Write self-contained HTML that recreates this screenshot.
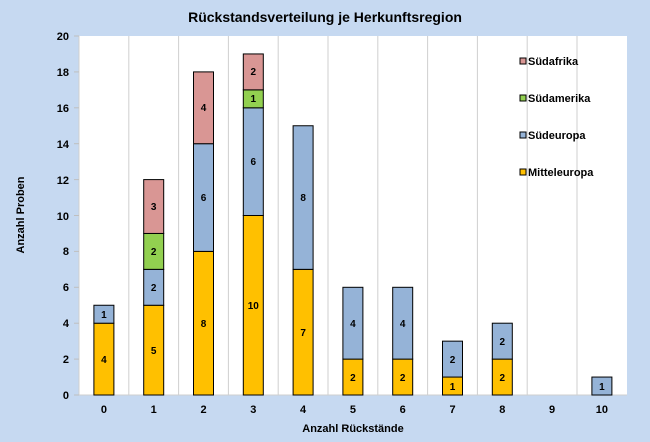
<!DOCTYPE html>
<html><head><meta charset="utf-8"><style>
body{margin:0;background:#c6d9f1;}
svg{display:block;font-family:"Liberation Sans",Arial,sans-serif;font-weight:bold;}
</style></head><body>
<svg width="650" height="442" viewBox="0 0 650 442" xmlns="http://www.w3.org/2000/svg">
<rect width="650" height="442" fill="#c6d9f1"/>
<text x="325" y="22" font-size="14" text-anchor="middle">Rückstandsverteilung je Herkunftsregion</text>
<rect x="79" y="36" width="548" height="359" fill="#fff"/>
<g stroke="#cfcfcf" stroke-width="1">
<line x1="128.8" y1="36" x2="128.8" y2="395"/><line x1="178.6" y1="36" x2="178.6" y2="395"/>
<line x1="228.4" y1="36" x2="228.4" y2="395"/><line x1="278.2" y1="36" x2="278.2" y2="395"/>
<line x1="328" y1="36" x2="328" y2="395"/><line x1="377.8" y1="36" x2="377.8" y2="395"/>
<line x1="427.6" y1="36" x2="427.6" y2="395"/><line x1="477.4" y1="36" x2="477.4" y2="395"/>
<line x1="527.2" y1="36" x2="527.2" y2="395"/><line x1="577" y1="36" x2="577" y2="395"/>
<line x1="79" y1="36" x2="79" y2="395"/><line x1="79" y1="395" x2="627" y2="395"/>
</g>
<g stroke="#bfbfbf"><line x1="74" y1="36" x2="79" y2="36"/><line x1="74" y1="71.9" x2="79" y2="71.9"/><line x1="74" y1="107.8" x2="79" y2="107.8"/><line x1="74" y1="143.7" x2="79" y2="143.7"/><line x1="74" y1="179.6" x2="79" y2="179.6"/><line x1="74" y1="215.5" x2="79" y2="215.5"/><line x1="74" y1="251.4" x2="79" y2="251.4"/><line x1="74" y1="287.3" x2="79" y2="287.3"/><line x1="74" y1="323.2" x2="79" y2="323.2"/><line x1="74" y1="359.1" x2="79" y2="359.1"/><line x1="74" y1="395" x2="79" y2="395"/></g>
<g font-size="11" text-anchor="end">
<text x="69" y="40">20</text><text x="69" y="76">18</text><text x="69" y="112">16</text><text x="69" y="148">14</text><text x="69" y="184">12</text><text x="69" y="220">10</text><text x="69" y="255">8</text><text x="69" y="291">6</text><text x="69" y="327">4</text><text x="69" y="363">2</text><text x="69" y="399">0</text>
</g>
<g font-size="11" text-anchor="middle">
<text x="103.9" y="413">0</text><text x="153.7" y="413">1</text><text x="203.5" y="413">2</text><text x="253.3" y="413">3</text><text x="303.1" y="413">4</text><text x="352.9" y="413">5</text><text x="402.7" y="413">6</text><text x="452.5" y="413">7</text><text x="502.3" y="413">8</text><text x="552.1" y="413">9</text><text x="601.9" y="413">10</text>
<text x="353" y="432">Anzahl Rückstände</text>
</g>
<text transform="translate(24,215) rotate(-90)" font-size="11" text-anchor="middle">Anzahl Proben</text>
<g stroke="#000" stroke-width="1">
<rect x="93.9" y="323.2" width="20" height="71.8" fill="#ffc000"/><rect x="93.9" y="305.25" width="20" height="17.95" fill="#95b3d7"/>
<rect x="143.7" y="305.25" width="20" height="89.75" fill="#ffc000"/><rect x="143.7" y="269.35" width="20" height="35.9" fill="#95b3d7"/><rect x="143.7" y="233.45" width="20" height="35.9" fill="#92d050"/><rect x="143.7" y="179.6" width="20" height="53.85" fill="#d99694"/>
<rect x="193.5" y="251.4" width="20" height="143.6" fill="#ffc000"/><rect x="193.5" y="143.7" width="20" height="107.7" fill="#95b3d7"/><rect x="193.5" y="71.9" width="20" height="71.8" fill="#d99694"/>
<rect x="243.3" y="215.5" width="20" height="179.5" fill="#ffc000"/><rect x="243.3" y="107.8" width="20" height="107.7" fill="#95b3d7"/><rect x="243.3" y="89.85" width="20" height="17.95" fill="#92d050"/><rect x="243.3" y="53.95" width="20" height="35.9" fill="#d99694"/>
<rect x="293.1" y="269.35" width="20" height="125.65" fill="#ffc000"/><rect x="293.1" y="125.75" width="20" height="143.6" fill="#95b3d7"/>
<rect x="342.9" y="359.1" width="20" height="35.9" fill="#ffc000"/><rect x="342.9" y="287.3" width="20" height="71.8" fill="#95b3d7"/>
<rect x="392.7" y="359.1" width="20" height="35.9" fill="#ffc000"/><rect x="392.7" y="287.3" width="20" height="71.8" fill="#95b3d7"/>
<rect x="442.5" y="377.05" width="20" height="17.95" fill="#ffc000"/><rect x="442.5" y="341.15" width="20" height="35.9" fill="#95b3d7"/>
<rect x="492.3" y="359.1" width="20" height="35.9" fill="#ffc000"/><rect x="492.3" y="323.2" width="20" height="35.9" fill="#95b3d7"/>
<rect x="591.9" y="377.05" width="20" height="17.95" fill="#95b3d7"/>
</g>
<g font-size="10" text-anchor="middle">
<text x="103.9" y="363">4</text><text x="103.9" y="318">1</text>
<text x="153.7" y="354">5</text><text x="153.7" y="291">2</text><text x="153.7" y="255">2</text><text x="153.7" y="210">3</text>
<text x="203.5" y="327">8</text><text x="203.5" y="201">6</text><text x="203.5" y="111">4</text>
<text x="253.3" y="309">10</text><text x="253.3" y="165">6</text><text x="253.3" y="102">1</text><text x="253.3" y="75">2</text>
<text x="303.1" y="336">7</text><text x="303.1" y="201">8</text>
<text x="352.9" y="381">2</text><text x="352.9" y="327">4</text>
<text x="402.7" y="381">2</text><text x="402.7" y="327">4</text>
<text x="452.5" y="390">1</text><text x="452.5" y="363">2</text>
<text x="502.3" y="381">2</text><text x="502.3" y="345">2</text>
<text x="601.9" y="390">1</text>
</g>
<g stroke="#000" stroke-width="1">
<rect x="520" y="58" width="6" height="6" fill="#d99694"/>
<rect x="520" y="95" width="6" height="6" fill="#92d050"/>
<rect x="520" y="132" width="6" height="6" fill="#95b3d7"/>
<rect x="520" y="169" width="6" height="6" fill="#ffc000"/>
</g>
<g font-size="11">
<text x="528" y="65">Südafrika</text>
<text x="528" y="102">Südamerika</text>
<text x="528" y="139">Südeuropa</text>
<text x="528" y="176">Mitteleuropa</text>
</g>
</svg>
</body></html>
